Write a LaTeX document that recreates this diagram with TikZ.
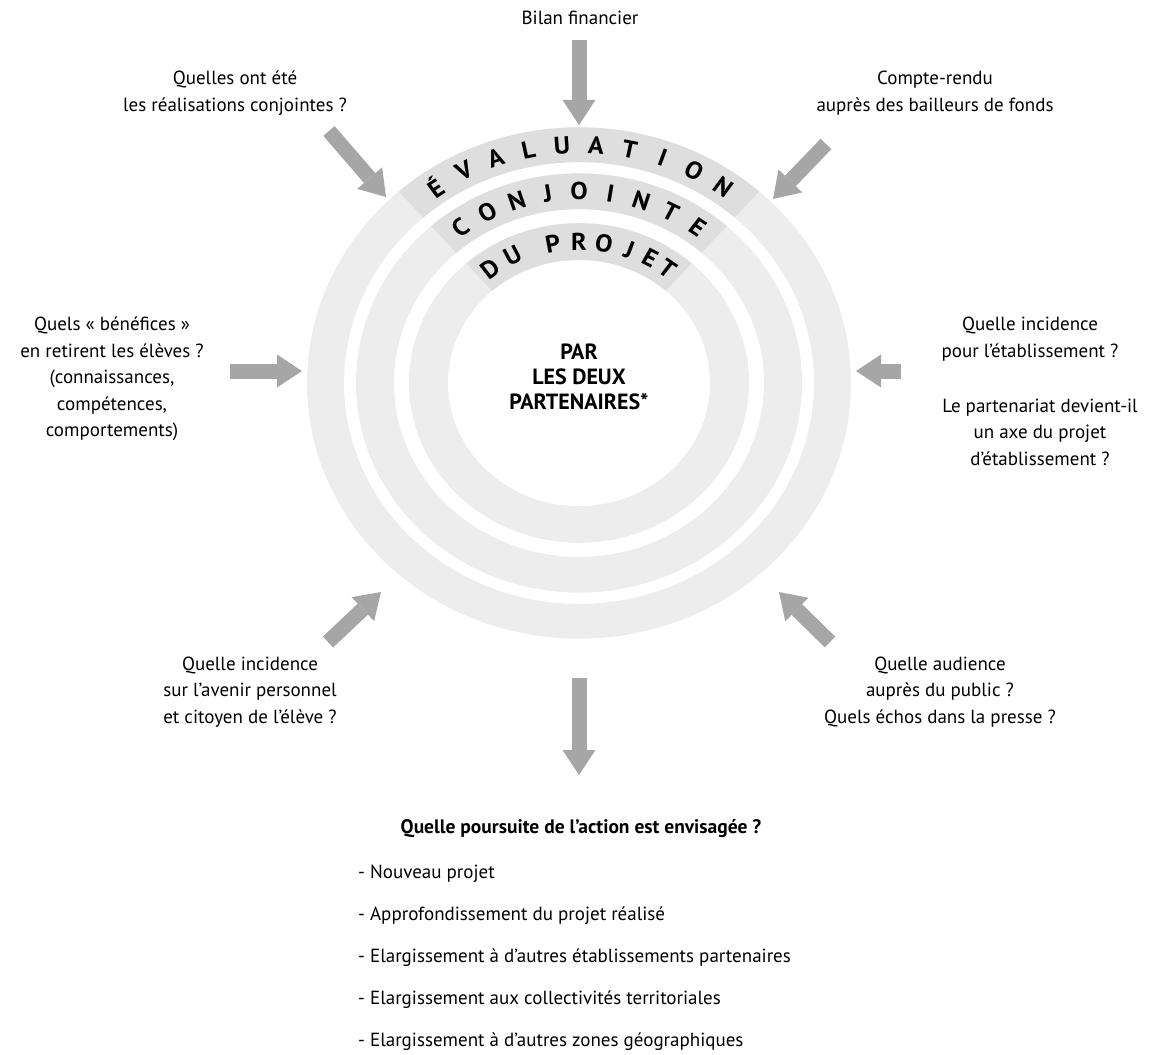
\documentclass[tikz,border=0pt]{standalone}
\usepackage{fontspec}
\setmainfont{PT Sans}
\usepackage{tikz}
\usetikzlibrary{arrows.meta,positioning,calc}

\definecolor{ringgray}{RGB}{237,237,237}
\definecolor{bandgray}{RGB}{222,222,222}
\definecolor{arrowgray}{RGB}{166,166,166}

\begin{document}
\begin{tikzpicture}[
  x=1pt, y=1pt,
  every node/.style={font=\fontsize{19}{26.5}\selectfont},
  question/.style={align=center, inner sep=0pt},
  arcletter/.style={font=\fontsize{26}{26}\selectfont\bfseries, inner sep=0pt},
  fatarrow/.style={arrowgray, line width=15pt,
                   -{Triangle[length=25pt 0 0, width=33pt 0 0, line width=0pt 0 0]}},
]
\useasboundingbox (0,0) rectangle (1161,-1054);
% centre of the rings
\coordinate (ctr) at (579,-383);
% rings (a little flatter than round)
\begin{scope}[shift={(ctr)}, yscale=0.94, transform shape]
  \fill[ringgray, even odd rule] (0,0) circle (272pt) (0,0) circle (235pt);
  \fill[ringgray, even odd rule] (0,0) circle (223pt) (0,0) circle (185pt);
  \fill[ringgray, even odd rule] (0,0) circle (170pt) (0,0) circle (131pt);
  % darker bands under the titles
  \foreach \rin/\rout in {235/272, 185/223, 131/170}
    \fill[bandgray] (48.5:\rin pt) arc (48.5:131.5:\rin pt)
       -- (131.5:\rout pt) arc (131.5:48.5:\rout pt) -- cycle;
  % letters along the rings
  \foreach \ch [count=\i] in {É,V,A,L,U,A,T,I,O,N}
    \node[arcletter, rotate={(5.5-\i)*7.7}] at ({90+(5.5-\i)*7.7}:253.5pt) {\ch};
  \foreach \ch [count=\i] in {C,O,N,J,O,I,N,T,E}
    \node[arcletter, rotate={(5-\i)*8.9}] at ({90+(5-\i)*8.9}:204pt) {\ch};
  \foreach \ch/\a in {D/126.2, U/116.2, P/100, R/90, O/80.4, J/70.5, E/61.8, T/54}
    \node[arcletter, rotate=\a-90] at (\a:150.5pt) {\ch};
\end{scope}
% centre text
\node[question, font=\fontsize{22}{25}\selectfont\bfseries] (who) at (579,-377)
  {PAR\\LES DEUX\\PARTENAIRES*};

% questions round the rings
\node[question] (bilan) at (580,-18) {Bilan financier};
\node[question] (realis) at (235,-93) {Quelles ont été\\les réalisations conjointes ?};
\node[question] (compte) at (935,-93) {Compte-rendu\\auprès des bailleurs de fonds};
\node[question] (benef) at (112,-379)
  {Quels « bénéfices »\\en retirent les élèves ?\\(connaissances,\\compétences,\\comportements)};
\node[question] (etab) at (1030,-339) {Quelle incidence\\pour l’établissement ?};
\node[question] (axe) at (1040,-432) {Le partenariat devient-il\\un axe du projet\\d’établissement ?};
\node[question] (avenir) at (250,-692)
  {Quelle incidence\\sur l’avenir personnel\\et citoyen de l’élève ?};
\node[question] (audience) at (940,-692)
  {Quelle audience\\auprès du public ?\\Quels échos dans la presse ?};

% follow-up
\node[question, font=\fontsize{19.5}{26.5}\selectfont\bfseries] (suite) at (581,-829)
  {Quelle poursuite de l’action est envisagée ?};
\node[align=left, inner sep=0pt, anchor=north west,
      font=\fontsize{19}{42}\selectfont] (pistes) at (358,-865)
  {- Nouveau projet\\
   - Approfondissement du projet réalisé\\
   - Elargissement à d’autres établissements partenaires\\
   - Elargissement aux collectivités territoriales\\
   - Elargissement à d’autres zones géographiques};

% arrow ends
\coordinate (n-tail) at (579,-40);   \coordinate (n-tip) at (579,-125);
\coordinate (nw-tail) at (329,-131); \coordinate (nw-tip) at (386,-197);
\coordinate (ne-tail) at (826,-144); \coordinate (ne-tip) at (773,-199);
\coordinate (w-tail) at (230,-371);  \coordinate (w-tip) at (302,-371);
\coordinate (e-tail) at (901,-371);  \coordinate (e-tip) at (856,-371);
\coordinate (sw-tail) at (328,-642); \coordinate (sw-tip) at (381,-592);
\coordinate (se-tail) at (830,-642); \coordinate (se-tip) at (779,-592);
\coordinate (s-tail) at (579,-678);  \coordinate (s-tip) at (579,-775);
% arrows
\foreach \d in {n,nw,ne,w,e,sw,se,s}
  \draw[fatarrow] (\d-tail) -- (\d-tip);
\end{tikzpicture}
\end{document}
